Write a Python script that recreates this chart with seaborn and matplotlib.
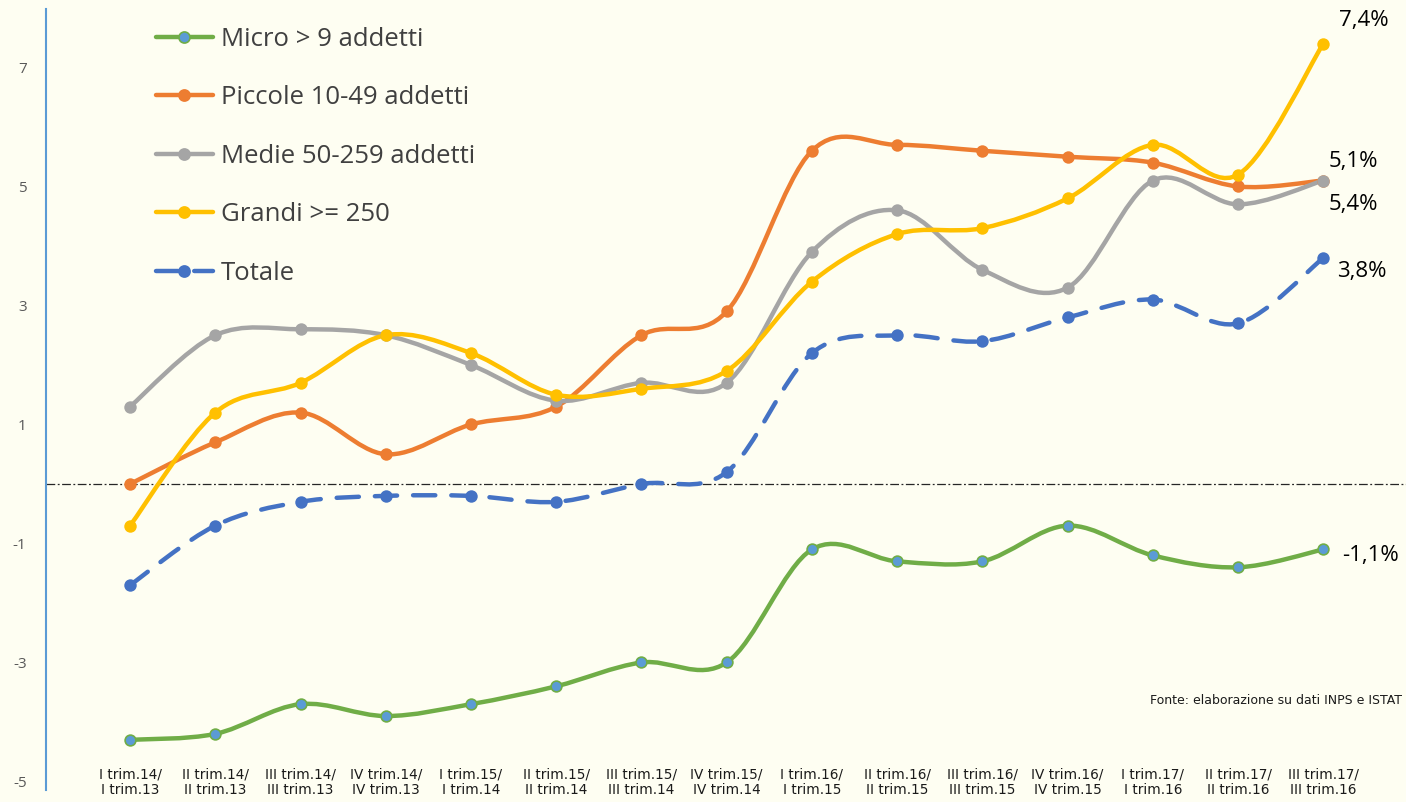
import matplotlib
matplotlib.use("Agg")
import matplotlib.pyplot as plt
import numpy as np
import pandas as pd
import seaborn as sns
from matplotlib.lines import Line2D
from matplotlib.patches import PathPatch
from matplotlib.path import Path

# Periodi (variazione tendenziale trimestrale)
trimestri = [
    "I trim.14/\nI trim.13", "II trim.14/\nII trim.13", "III trim.14/\nIII trim.13",
    "IV trim.14/\nIV trim.13", "I trim.15/\nI trim.14", "II trim.15/\nII trim.14",
    "III trim.15/\nIII trim.14", "IV trim.15/\nIV trim.14", "I trim.16/\nI trim.15",
    "II trim.16/\nII trim.15", "III trim.16/\nIII trim.15", "IV trim.16/\nIV trim.15",
    "I trim.17/\nI trim.16", "II trim.17/\nII trim.16", "III trim.17/\nIII trim.16",
]

micro = [-4.3, -4.2, -3.7, -3.9, -3.7, -3.4, -3.0, -3.0, -1.1, -1.3, -1.3, -0.7, -1.2, -1.4, -1.1]
piccole = [0.0, 0.7, 1.2, 0.5, 1.0, 1.3, 2.5, 2.9, 5.6, 5.7, 5.6, 5.5, 5.4, 5.0, 5.1]
medie = [1.3, 2.5, 2.6, 2.5, 2.0, 1.4, 1.7, 1.7, 3.9, 4.6, 3.6, 3.3, 5.1, 4.7, 5.1]
grandi = [-0.7, 1.2, 1.7, 2.5, 2.2, 1.5, 1.6, 1.9, 3.4, 4.2, 4.3, 4.8, 5.7, 5.2, 7.4]
totale = [-1.7, -0.7, -0.3, -0.2, -0.2, -0.3, 0.0, 0.2, 2.2, 2.5, 2.4, 2.8, 3.1, 2.7, 3.8]

nomi_serie = ["Micro > 9 addetti", "Piccole 10-49 addetti", "Medie 50-259 addetti",
              "Grandi >= 250", "Totale"]
valori_serie = [micro, piccole, medie, grandi, totale]

# etichette di fine serie: (testo, serie di riferimento)
etichette_finali = [("7,4%", "Grandi >= 250"), ("5,1%", "Medie 50-259 addetti"),
                    ("5,4%", "Piccole 10-49 addetti"), ("3,8%", "Totale"),
                    ("-1,1%", "Micro > 9 addetti")]

fonte = "Fonte: elaborazione su dati INPS e ISTAT"

colori = {
    "Micro > 9 addetti": "#70AD47",
    "Piccole 10-49 addetti": "#ED7D31",
    "Medie 50-259 addetti": "#A5A5A5",
    "Grandi >= 250": "#FFC000",
    "Totale": "#4472C4",
}
riempimento = {k: v for k, v in colori.items()}
riempimento["Micro > 9 addetti"] = "#5B9BD5"
stili = {k: "-" for k in colori}
stili["Totale"] = (0, (5, 3.6))

offset_etichette = {"7,4%": (11.5, 16.5), "5,1%": (3.6, 13.7), "5,4%": (3.6, -17.3),
                    "3,8%": (10, -10), "-1,1%": (13.7, -4.3)}

df = pd.concat(
    [pd.DataFrame({"pos": np.arange(len(trimestri)), "valore": v, "serie": n})
     for n, v in zip(nomi_serie, valori_serie)],
    ignore_index=True,
)


def percorso_smussato(x, y):
    """Curva di Bezier tipo 'linea smussata' di Excel passante per i punti."""
    p = np.column_stack([x, y]).astype(float)
    ext = np.vstack([p[0], p, p[-1]])
    verts = [p[0]]
    codes = [Path.MOVETO]
    for i in range(len(p) - 1):
        p0, p1, p2, p3 = ext[i], ext[i + 1], ext[i + 2], ext[i + 3]
        verts += [p1 + (p2 - p0) / 6, p2 - (p3 - p1) / 6, p2]
        codes += [Path.CURVE4] * 3
    return Path(verts, codes)


sns.set_theme(style="white")
plt.rcParams["font.family"] = ["Open Sans", "DejaVu Sans"]
sfondo = "#FEFEF2"

fig = plt.figure(figsize=(14.06, 8.02), dpi=100)
fig.patch.set_facecolor(sfondo)
ax = fig.add_axes([46 / 1406, 1 - 790 / 802, 1 - 46 / 1406, (790 - 9) / 802])
ax.set_facecolor(sfondo)

ax.axhline(0, color="#262626", lw=0.9, ls=(0, (7, 2, 1.5, 2)), zorder=1)

for nome in nomi_serie:
    sub = df[df["serie"] == nome]
    ax.add_patch(PathPatch(percorso_smussato(sub["pos"], sub["valore"]), fill=False,
                           ec=colori[nome], lw=3.2, ls=stili[nome], capstyle="round",
                           zorder=2))
    sns.scatterplot(data=sub, x="pos", y="valore", ax=ax, color=riempimento[nome],
                    edgecolor=colori[nome], linewidth=1.2, s=60, zorder=3, legend=False)

ax.set_xlim(-0.986, 14.97)
ax.set_ylim(-5.143, 7.983)

ax.set_xticks(range(len(trimestri)))
ax.set_xticklabels(trimestri, fontsize=9.8, family="DejaVu Sans", linespacing=1.15,
                   color="#1a1a1a")
ax.tick_params(axis="x", length=0, pad=-16)
ax.set_yticks([7, 5, 3, 1, -1, -3, -5])
ax.set_yticklabels(["7", "5", "3", "1", "-1", "-3", "-5"], fontsize=11, color="#595959")
ax.tick_params(axis="y", length=0, pad=14)
ax.set_xlabel("")
ax.set_ylabel("")

for nome in ["top", "right", "bottom"]:
    ax.spines[nome].set_visible(False)
ax.spines["left"].set_color("#5B9BD5")
ax.spines["left"].set_linewidth(1.5)

ultimi = {n: v[-1] for n, v in zip(nomi_serie, valori_serie)}
for testo, nome in etichette_finali:
    ax.annotate(testo, xy=(len(trimestri) - 1, ultimi[nome]), xytext=offset_etichette[testo],
                textcoords="offset points", ha="left", va="center", fontsize=16,
                color="black", annotation_clip=False)

maniglie = [
    Line2D([], [], color=colori[n], lw=3.2, ls=stili[n], marker="o", ms=8,
           mfc=riempimento[n], mec=colori[n], mew=1.2, dash_capstyle="round")
    for n in nomi_serie
]
leg = ax.legend(maniglie, nomi_serie, loc="upper left", bbox_to_anchor=(0.073, 0.99),
                borderaxespad=0, frameon=False, fontsize=18.5, handlelength=2.25,
                handletextpad=0.3, labelspacing=1.3)
for t in leg.get_texts():
    t.set_color("#404040")

# la fonte resta dentro il bordo destro della figura
fig.text(0.997, 1 - 701 / 802, fonte, fontsize=9, family="DejaVu Sans",
         va="center", ha="right", color="#1a1a1a")

fig.savefig("out.png", dpi=100, facecolor=sfondo)
